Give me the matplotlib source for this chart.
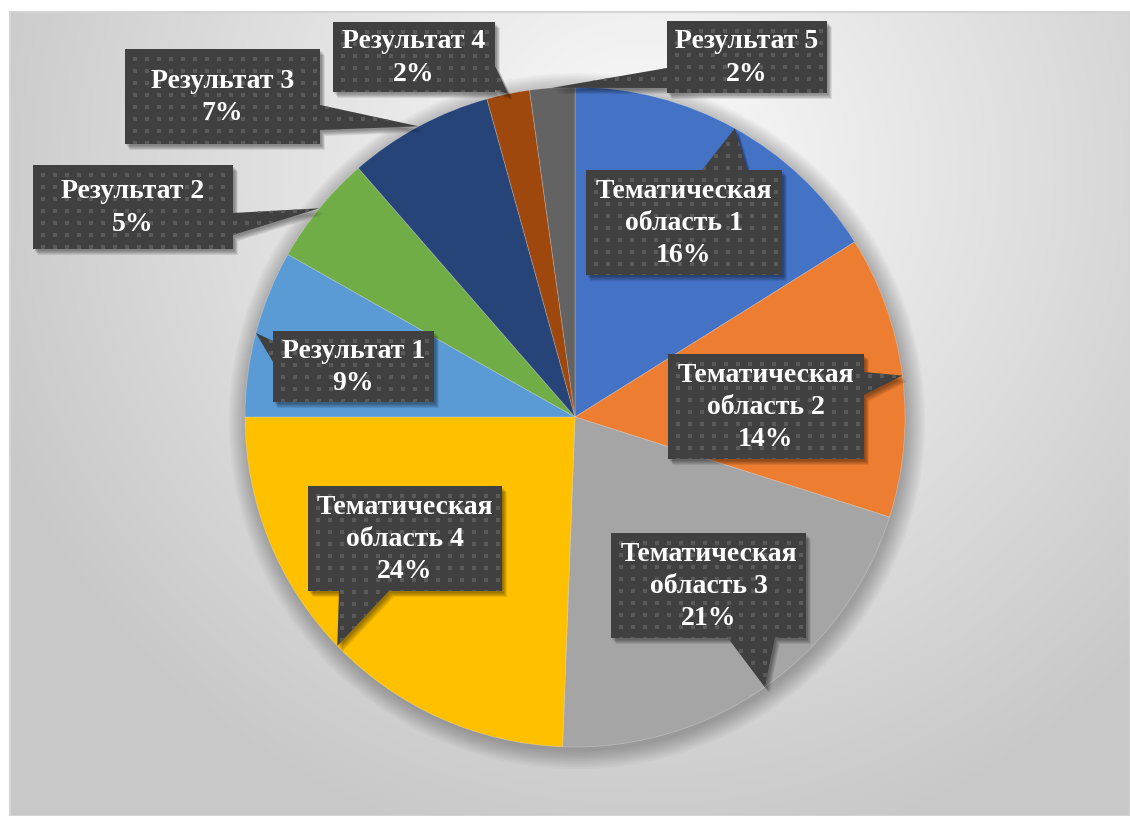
import numpy as np
import matplotlib
matplotlib.use("Agg")
import matplotlib.pyplot as plt
from matplotlib.patches import Polygon, Circle, Rectangle

# ---------------- data ----------------
categories = ["Тематическая\nобласть 1", "Тематическая\nобласть 2", "Тематическая\nобласть 3",
              "Тематическая\nобласть 4", "Результат 1", "Результат 2", "Результат 3",
              "Результат 4", "Результат 5"]
shares = [16.1, 13.8, 20.7, 24.4, 8.2, 5.4, 7.1, 2.1, 2.2]
pct_labels = ["16%", "14%", "21%", "24%", "9%", "5%", "7%", "2%", "2%"]
colors = ["#4472C4", "#ED7D31", "#A5A5A5", "#FFC000", "#5B9BD5", "#70AD47",
          "#264478", "#9E480E", "#636363"]

# label boxes (pixel layout: x0, y0, x1, y1), leader side and base span
boxes = [(586, 170, 782, 275), (668, 354, 864, 459), (611, 533, 806, 638),
         (308, 486, 502, 591), (273, 331, 434, 402), (33, 165, 233, 249),
         (125, 49, 320, 144), (333, 22, 495, 92), (667, 21, 827, 93)]
leader_side = ["top", "right", "bottom", "bottom", "left", "right", "right", "right", "left"]
leader_span = [(702, 747), (372, 395), (728, 775), (339, 389), (341, 362), (213, 235),
               (105, 130), (66, 90), (68, 88)]

W, H = 1130, 816
fig = plt.figure(figsize=(W / 100, H / 100), dpi=100)
fig.patch.set_facecolor("white")

# ---------------- background ----------------
bg = fig.add_axes([0, 0, 1, 1], zorder=0)
bg.set_xlim(0, W)
bg.set_ylim(H, 0)
bg.axis("off")
yy, xx = np.mgrid[12:H, 10:W]
d = np.hypot((xx - 640) / 1.0, (yy - 170) / 1.0)
t = np.clip(d / 700.0, 0, 1) ** 1.0
val = 0.985 - (0.985 - 0.785) * t
img = np.dstack([val, val, val])
bg.imshow(img, extent=[10, W, H, 12], origin="upper", interpolation="bilinear", zorder=0)
bg.add_patch(Rectangle((10, 12), W - 10, H - 12, fill=False, edgecolor="#d4d4d4", lw=1.5, zorder=1))

# ---------------- pie ----------------
cx, cy, R = 575, 417, 330
ax = fig.add_axes([(cx - R) / W, (H - cy - R) / H, 2 * R / W, 2 * R / H], zorder=1)
# soft shadow
for k in range(12):
    ax.add_patch(Circle((0.006, -0.012), 1.0 + 0.005 * k, color="black", alpha=0.025,
                        lw=0, clip_on=False, zorder=0))
wedges, _ = ax.pie(shares, colors=colors, startangle=90, counterclock=False,
                   radius=1.0, wedgeprops=dict(linewidth=0.6, edgecolor="#ffffff40"))
for w in wedges:
    w.set_zorder(2)
ax.set_xlim(-1, 1)
ax.set_ylim(-1, 1)
ax.axis("off")

# ---------------- labels ----------------
ov = fig.add_axes([0, 0, 1, 1], zorder=3)
ov.set_xlim(0, W)
ov.set_ylim(H, 0)
ov.axis("off")


def tip_point(w):
    th = np.deg2rad((w.theta1 + w.theta2) / 2)
    disp = ax.transData.transform((w.r * np.cos(th), w.r * np.sin(th)))
    return ov.transData.inverted().transform(disp)


def callout(box, side, span, tip):
    x0, y0, x1, y1 = box
    a, b = span
    TL, TR, BR, BL = (x0, y0), (x1, y0), (x1, y1), (x0, y1)
    tip = tuple(tip)
    if side == "top":
        pts = [TL, (a, y0), tip, (b, y0), TR, BR, BL]
    elif side == "right":
        pts = [TL, TR, (x1, a), tip, (x1, b), BR, BL]
    elif side == "bottom":
        pts = [TL, TR, BR, (b, y1), tip, (a, y1), BL]
    else:
        pts = [TL, TR, BR, BL, (x0, b), tip, (x0, a)]
    return np.array(pts, dtype=float)


for i, w in enumerate(wedges):
    tip = tip_point(w)
    pts = callout(boxes[i], leader_side[i], leader_span[i], tip)
    # shadow
    for k, off in enumerate([2, 3, 4, 5, 6]):
        ov.add_patch(Polygon(pts + np.array([off * 0.8, off]), closed=True, color="black",
                             alpha=0.09, lw=0, zorder=1))
    poly = Polygon(pts, closed=True, facecolor="#404040", edgecolor="none", zorder=2)
    ov.add_patch(poly)
    # dotted-grid pattern clipped to the callout
    xmin, ymin = pts.min(axis=0)
    xmax, ymax = pts.max(axis=0)
    x0i, y0i = int(np.floor(xmin)), int(np.floor(ymin))
    x1i, y1i = int(np.ceil(xmax)), int(np.ceil(ymax))
    py, px = np.mgrid[y0i:y1i, x0i:x1i]
    sp = 12
    mask = (((px - boxes[i][0] + 4) % sp) < 4) & (((py - boxes[i][1] + 4) % sp) < 4)
    pat = np.zeros((y1i - y0i, x1i - x0i, 4))
    pat[..., :3] = 0x5a / 255
    pat[..., 3] = mask.astype(float)
    im = ov.imshow(pat, extent=[x0i, x1i, y1i, y0i], origin="upper", interpolation="nearest",
                   zorder=3)
    im.set_clip_path(poly)
    bx0, by0, bx1, by1 = boxes[i]
    ov.text((bx0 + bx1) / 2, (by0 + by1) / 2 + 1, categories[i] + "\n" + pct_labels[i],
            ha="center", va="center", color="white", fontsize=20, fontweight="bold",
            family=["Liberation Serif", "DejaVu Serif"], linespacing=1.38, zorder=4)

fig.savefig("out.png", dpi=100, facecolor=fig.get_facecolor())
